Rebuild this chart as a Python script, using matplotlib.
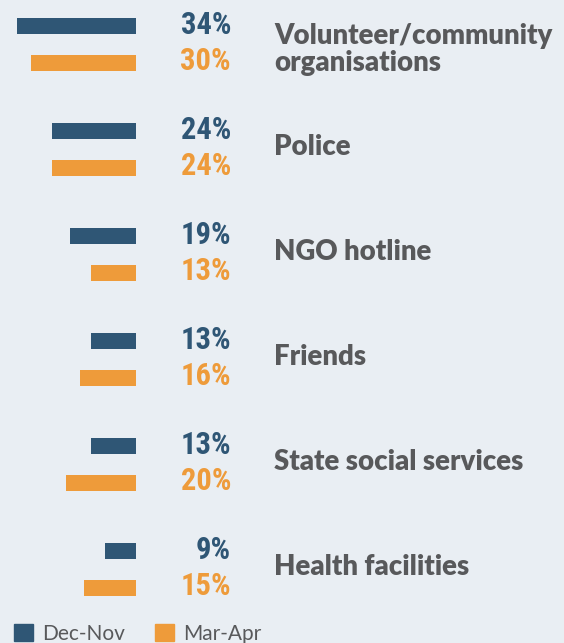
import matplotlib.pyplot as plt
from matplotlib.patches import Patch

## data
categories = ['Volunteer/community\norganisations', 'Police', 'NGO hotline',
              'Friends', 'State social services', 'Health facilities']
dec_nov = [34, 24, 19, 13, 13, 9]
mar_apr = [30, 24, 13, 16, 20, 15]
series_names = ['Dec-Nov', 'Mar-Apr']

BLUE = '#2f5675'
ORANGE = '#ee9b3a'
BG = '#e9eef3'
GREY = '#58595b'

fig = plt.figure(figsize=(5.64, 6.43), dpi=100, facecolor=BG)
ax = fig.add_axes([0, 0, 1, 1])
ax.set_facecolor(BG)

# 3.5 px per percent, bars end at pixel 136 and grow to the left
ax.set_xlim(-136 / 3.5, (564 - 136) / 3.5)
ax.set_ylim((643 - 44.5) / 105, -44.5 / 105)
ax.axis('off')

pos = list(range(len(categories)))
off = 18.5 / 105
h = 16 / 105
ax.barh([p - off for p in pos], [-v for v in dec_nov], height=h, color=BLUE)
ax.barh([p + off for p in pos], [-v for v in mar_apr], height=h, color=ORANGE)

lab_x = (231 - 136) / 3.5
cat_x = (274 - 136) / 3.5
pct_font = ['Roboto Condensed', 'Barlow Semi Condensed', 'DejaVu Sans']
for p, a, b, c in zip(pos, dec_nov, mar_apr, categories):
    ax.text(lab_x, p - off - 0.01, f'{a}%', ha='right', va='center', color=BLUE,
            fontsize=22, fontweight='bold', family=pct_font)
    ax.text(lab_x, p + off - 0.02, f'{b}%', ha='right', va='center', color=ORANGE,
            fontsize=22, fontweight='bold', family=pct_font)
    ax.text(cat_x, p + (0.05 if '\n' in c else -0.02), c, ha='left', va='center',
            color=GREY, fontsize=19.8, fontweight='heavy', family='Lato',
            linespacing=1.05)

handles = [Patch(color=BLUE, label=series_names[0]),
           Patch(color=ORANGE, label=series_names[1])]
fig.legend(handles=handles, loc='lower left', bbox_to_anchor=(-0.008, -0.03),
           ncol=2, frameon=False, handlelength=0.9, handleheight=0.9,
           handletextpad=0.45, columnspacing=1.45,
           prop={'family': 'Lato', 'size': 15}, labelcolor=GREY)

fig.savefig('out.png', dpi=100, facecolor=BG)
